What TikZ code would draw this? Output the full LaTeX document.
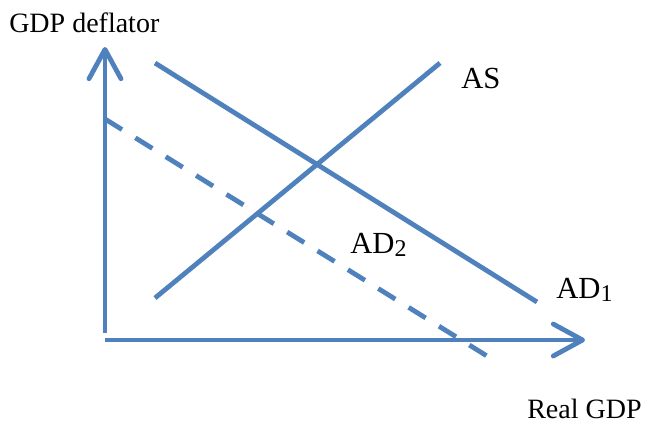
\documentclass[tikz,border=0pt]{standalone}
\usepackage{fontspec}
\setmainfont{Liberation Serif}
\usetikzlibrary{arrows.meta}
\definecolor{lineblue}{HTML}{4F81BD}
\begin{document}
\begin{tikzpicture}[x=0.75pt,y=-0.75pt,
  curve/.style={draw=lineblue,line width=3.6pt},
  axis/.style={curve,-{Straight Barb[length=22pt,width=24pt,line cap=round,line join=round]}},
  dashcurve/.style={curve,dash pattern=on 15pt off 11.8pt},
  lbl/.style={anchor=base west,inner sep=0pt,font=\fontsize{23}{27}\selectfont},
  lbls/.style={anchor=base west,inner sep=0pt,font=\fontsize{21}{25}\selectfont}]
\useasboundingbox (0,0) rectangle (646,426);
% axes
\coordinate (yb) at (105,333);
\coordinate (yt) at (105,47);
\coordinate (xl) at (105,340);
\coordinate (xr) at (585,340);
\draw[axis] (yb) -- (yt);
\draw[axis] (xl) -- (xr);
% curves
\coordinate (as1) at (155,298);
\coordinate (as2) at (440,63);
\coordinate (ad1a) at (155,63);
\coordinate (ad1b) at (537,302);
\coordinate (ad2a) at (105,119);
\coordinate (ad2b) at (487,356);
\draw[curve] (as1) -- (as2);
\draw[curve] (ad1a) -- (ad1b);
\draw[dashcurve] (ad2a) -- (ad2b);
% labels
\node[lbls] (ylab) at (9,32) {GDP deflator};
\node[lbls] (xlab) at (527,418) {Real GDP};
\node[lbl] (aslab) at (461,88) {AS};
\node[lbl] (ad1lab) at (556,298) {AD\raisebox{-0.22ex}{\fontsize{18}{20}\selectfont 1}};
\node[lbl] (ad2lab) at (350,253) {AD\raisebox{-0.22ex}{\fontsize{18}{20}\selectfont 2}};
\end{tikzpicture}
\end{document}
